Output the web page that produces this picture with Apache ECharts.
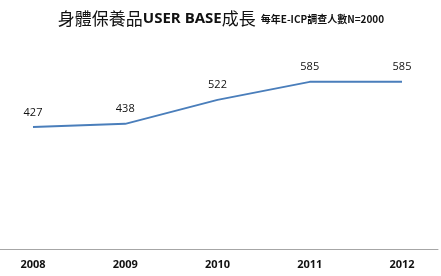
<!DOCTYPE html>
<html><head><meta charset="utf-8">
<script src="https://cdn.jsdelivr.net/npm/echarts@6/dist/echarts.min.js"></script>
<style>html,body{margin:0;padding:0;background:#fff}#c{width:441px;height:276px}</style>
</head><body><div id="c"></div>
<script>
const categories = ['2008','2009','2010','2011','2012'];
const userBase = [427, 438, 522, 585, 585];
const titleCjk1 = '身體保養品';
const titleLatin = 'USER BASE';
const titleCjk2 = '成長';
const titleSub = '每年E-ICP調查人數N=2000';

const cjk = '"Noto Sans CJK TC", sans-serif';
const lat = '"Open Sans", "Liberation Sans", sans-serif';
const chart = echarts.init(document.getElementById('c'), null, {renderer:'canvas'});
chart.setOption({
  animation: false,
  backgroundColor: '#fff',
  title: {
    text: '{a|' + titleCjk1 + '}{u|' + titleLatin + '}{a|' + titleCjk2 + '} {b|' + titleSub + '}',
    left: 216, textAlign: 'center', top: 5,
    textStyle: {
      rich: {
        a: {fontSize: 17, fontWeight: 'normal', color: '#111', fontFamily: cjk},
        u: {fontSize: 15, fontWeight: 'bold', color: '#111', fontFamily: lat},
        b: {fontSize: 10, fontWeight: 'bold', color: '#111', fontFamily: cjk}
      }
    }
  },
  grid: [
    {left: 33, right: 39, top: 49, bottom: 27},
    {left: 0, right: 3, top: 49, bottom: 27}
  ],
  xAxis: [{
    type: 'category', data: categories, boundaryGap: false, gridIndex: 0,
    axisLine: {show: false},
    axisTick: {show: false},
    axisLabel: {color: '#111', fontSize: 11, fontWeight: 'bold', margin: 10, fontFamily: lat}
  }, {
    type: 'category', data: categories, gridIndex: 1,
    axisLine: {lineStyle: {color: '#a6a6a6', width: 1}},
    axisTick: {show: false}, axisLabel: {show: false}
  }],
  yAxis: [
    {type: 'value', min: 0, max: 700, show: false, splitLine: {show: false}, gridIndex: 0},
    {type: 'value', min: 0, max: 700, show: false, splitLine: {show: false}, gridIndex: 1}
  ],
  series: [{
    type: 'line', data: userBase, symbol: 'circle', symbolSize: 0, showSymbol: true,
    xAxisIndex: 0, yAxisIndex: 0,
    lineStyle: {color: '#4a7ebb', width: 2},
    itemStyle: {color: '#4a7ebb'},
    label: {show: true, position: 'top', distance: 9, color: '#111', fontSize: 11, fontFamily: lat}
  }]
});
</script></body></html>
